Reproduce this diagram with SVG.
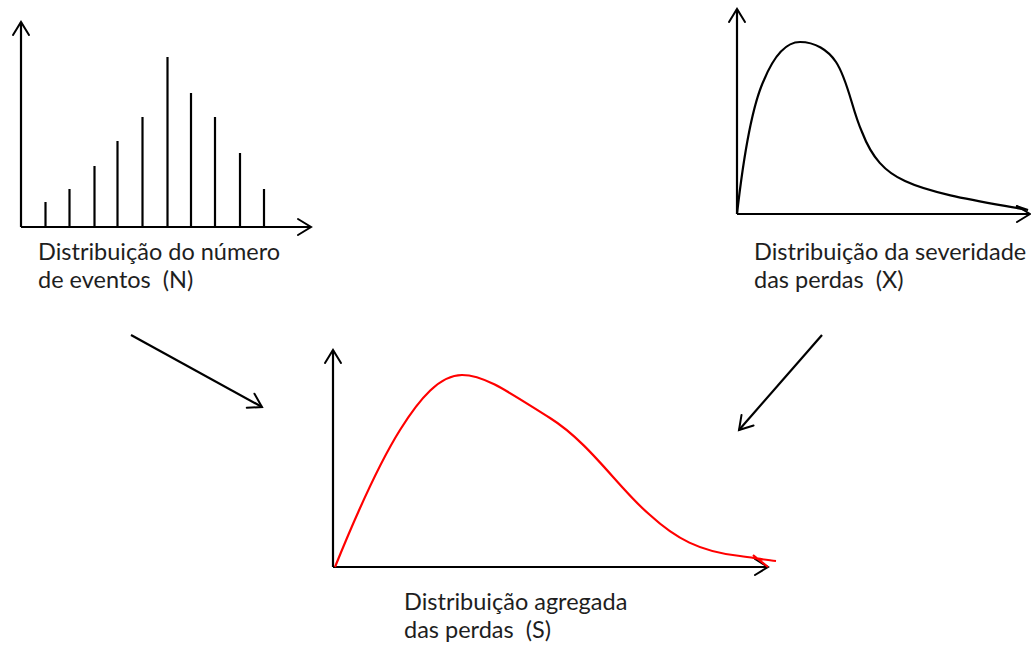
<svg xmlns="http://www.w3.org/2000/svg" width="1031" height="648" viewBox="0 0 1031 648">
<defs>
<marker id="chev" markerUnits="userSpaceOnUse" viewBox="-1 -1 16 18" refX="13" refY="8" markerWidth="16" markerHeight="18" orient="auto" overflow="visible">
<path d="M0,0 L13,8 L0,16" fill="none" stroke="#000" stroke-width="2" stroke-linecap="round" stroke-linejoin="miter"/>
</marker>
<style>
.ax{fill:none;stroke:#000;stroke-width:2.2;marker-end:url(#chev)}
.bar{stroke:#000;stroke-width:2.2}
.crv{fill:none;stroke:#000;stroke-width:2.2}
.red{fill:none;stroke:#ff0000;stroke-width:2.2}
.lbl{font-family:Lato,"Open Sans",sans-serif;font-size:23.5px;fill:#1e1e1e;white-space:pre}
</style>
</defs>
<rect width="1031" height="648" fill="#fff"/>

<g id="chart-n">
<path class="ax" d="M21,227 L21,22"/>
<path class="ax" d="M21,227 L311,227"/>
<line class="bar" x1="45.5" y1="227" x2="45.5" y2="202"/>
<line class="bar" x1="69.5" y1="227" x2="69.5" y2="189"/>
<line class="bar" x1="94.5" y1="227" x2="94.5" y2="166"/>
<line class="bar" x1="117.5" y1="227" x2="117.5" y2="141"/>
<line class="bar" x1="142.5" y1="227" x2="142.5" y2="117"/>
<line class="bar" x1="167.5" y1="227" x2="167.5" y2="57"/>
<line class="bar" x1="191" y1="227" x2="191" y2="93"/>
<line class="bar" x1="215" y1="227" x2="215" y2="117"/>
<line class="bar" x1="240" y1="227" x2="240" y2="153"/>
<line class="bar" x1="264" y1="227" x2="264" y2="189"/>
<text class="lbl" x="38" y="260">Distribuição do número</text>
<text class="lbl" x="38" y="288">de eventos  (N)</text>
</g>

<g id="chart-x">
<path class="ax" d="M737,214 L737,9"/>
<path class="ax" d="M737,214 L1030,214"/>
<path class="crv" d="M737,214 C742,170 750,110 764,80 C774,56 786,42 800,42 C815,42 828,50 836,62 C848,80 852,110 862,132 C872,158 885,172 905,181 C935,195 985,202 1028,210 L1016,206"/>
<text class="lbl" x="754" y="260">Distribuição da severidade</text>
<text class="lbl" x="754" y="288">das perdas  (X)</text>
</g>

<g id="chart-s">
<path class="ax" d="M333,567 L333,350"/>
<path class="ax" d="M333,567 L768,567"/>
<path class="red" d="M335,567 C350,530 375,470 400,430 C420,398 440,375 462,375 C485,375 510,393 550,418 C590,443 620,490 650,515 C675,538 700,552 740,556 C755,558 765,560 776,561 M753,555 L768,567"/>
<text class="lbl" x="404" y="610">Distribuição agregada</text>
<text class="lbl" x="404" y="638">das perdas  (S)</text>
</g>

<g id="connectors">
<path class="ax" d="M131,335 L262,407"/>
<path class="ax" d="M822,335 L739,430"/>
</g>
</svg>
